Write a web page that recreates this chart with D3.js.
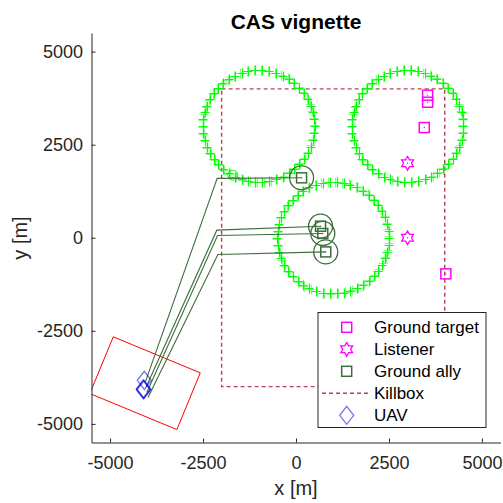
<!DOCTYPE html>
<html lang="en">
  <head>
    <meta charset="UTF-8">
    <title>CAS vignette</title>
    <script src="https://d3js.org/d3.v7.min.js"></script>
    <style>
      body { margin: 0; background: #fff; }
      text { font-family: "Liberation Sans", Arial, sans-serif; fill: #262626; }
    </style>
  </head>
  <body>
    <svg id="chart" width="503" height="503"></svg>
  <script>
    // ---- data (metres) ----
    var killbox = [-2000, 4000, -4000, 4000];           // xmin, xmax, ymin, ymax
    var zoneCenters = [[-1000, 3000], [3000, 3000], [1000, 0]];
    var zoneRadius = 1500;
    var zoneMarker = [[-1700, 1680]];
    var targets = [[3540, 3830], [3540, 3640], [3450, 2960], [4030, -970]];
    var listeners = [[3000, 2000], [3000, 0]];
    var allies = [[150, 1610], [660, 310], [720, 115], [800, -380]];
    var waypoints = [[-2120, 1594], [-2130, 204], [-2110, 62], [-2100, -449]];
    var pathEnds = [[-4050, -3870], [-4030, -4010], [-4010, -4150], [-3980, -4290]];
    var uavs = [[-4080, -3830], [-4110, -4060], [-4100, -4090], [-4090, -4070]];
    var sensorBox = [[-4915, -2661], [-2575, -3629], [-3204, -5153], [-5544, -4185]];
    var tickVals = [-5000, -2500, 0, 2500, 5000];
    var legendItems = ["Ground target", "Listener", "Ground ally", "Killbox", "UAV"];

    var svg = d3.select("#chart");
    var x = d3.scaleLinear().domain([-5500, 5500]).range([91.5, 500.5]);
    var y = d3.scaleLinear().domain([-5500, 5500]).range([442.5, 33]);

    var green = "#3c6e3c";
    var magenta = "#ff00ff";

    svg.append("defs").append("clipPath").attr("id", "clip")
      .append("rect").attr("x", 91.5).attr("y", 33).attr("width", 409).attr("height", 409.5);

    var g = svg.append("g").attr("clip-path", "url(#clip)");

    // killbox
    g.append("rect")
      .attr("x", x(killbox[0])).attr("y", y(killbox[3]))
      .attr("width", x(killbox[1]) - x(killbox[0]))
      .attr("height", y(killbox[2]) - y(killbox[3]))
      .attr("fill", "none").attr("stroke", "#a2142f").attr("stroke-opacity", 0.8)
      .attr("stroke-width", 1.4).attr("stroke-dasharray", "4,3");

    // zone rings of plus markers (a faint ghost copy sits just beside each one)
    var n = 50, ring = [];
    zoneCenters.forEach(function(c) {
      for (var i = 0; i < n; i++) {
        [[0.025, 0.5], [0, 1]].forEach(function(o) {
          var a = 2 * Math.PI * i / n + o[0];
          ring.push({p: [c[0] + zoneRadius * Math.cos(a), c[1] + zoneRadius * Math.sin(a)], op: o[1]});
        });
      }
    });
    g.selectAll(".plus").data(ring).enter().append("path")
      .attr("class", "plus")
      .attr("transform", function(d) { return "translate(" + Math.round(x(d.p[0])) + "," + Math.round(y(d.p[1])) + ")"; })
      .attr("d", "M-4.5,0.5H4.5M0.5,-4.5V5.5")
      .attr("stroke", "#00ff00").attr("stroke-opacity", function(d) { return d.op; }).attr("stroke-width", 1.2);

    g.selectAll(".zm").data(zoneMarker).enter().append("circle")
      .attr("cx", function(d) { return x(d[0]); }).attr("cy", function(d) { return y(d[1]); })
      .attr("r", 5).attr("fill", "none").attr("stroke", "#00ff00");

    // sensor footprint
    g.append("path")
      .datum(sensorBox)
      .attr("d", d3.line().x(function(d) { return x(d[0]); }).y(function(d) { return y(d[1]); }).curve(d3.curveLinearClosed))
      .attr("fill", "none").attr("stroke", "red").attr("stroke-width", 1);

    // routes ally -> waypoint -> uav
    var routes = allies.map(function(a, i) { return [a, waypoints[i], pathEnds[i]]; });
    g.selectAll(".route").data(routes).enter().append("path")
      .attr("d", d3.line().x(function(d) { return x(d[0]); }).y(function(d) { return y(d[1]); }))
      .attr("fill", "none").attr("stroke", green).attr("stroke-width", 1.1);

    // allies
    g.selectAll(".ring").data(allies).enter().append("circle")
      .attr("cx", function(d) { return x(d[0]); }).attr("cy", function(d) { return y(d[1]); })
      .attr("r", 12).attr("fill", "none").attr("stroke", green).attr("stroke-width", 1.3);
    g.selectAll(".ally").data(allies).enter().append("rect")
      .attr("x", function(d) { return x(d[0]) - 5; }).attr("y", function(d) { return y(d[1]) - 5; })
      .attr("width", 10).attr("height", 10)
      .attr("fill", "none").attr("stroke", green).attr("stroke-width", 1.5);

    // targets
    g.selectAll(".tgt").data(targets).enter().append("rect")
      .attr("x", function(d) { return x(d[0]) - 5; }).attr("y", function(d) { return y(d[1]) - 5; })
      .attr("width", 10).attr("height", 10)
      .attr("fill", "none").attr("stroke", magenta).attr("stroke-width", 1.5);
    g.selectAll(".tdot").data(targets.concat(allies, listeners)).enter().append("circle")
      .attr("cx", function(d) { return x(d[0]); }).attr("cy", function(d) { return y(d[1]); })
      .attr("r", 0.7).attr("fill", function(d, i) { return i >= targets.length && i < targets.length + allies.length ? green : magenta; });

    // listeners (hexagram)
    function hexagram(R) {
      var r = R / Math.sqrt(3), pts = [];
      for (var i = 0; i < 12; i++) {
        var a = -Math.PI / 2 + i * Math.PI / 6, rr = i % 2 ? r : R;
        pts.push([rr * Math.cos(a), rr * Math.sin(a)]);
      }
      return "M" + pts.join("L") + "Z";
    }
    g.selectAll(".lst").data(listeners).enter().append("path")
      .attr("transform", function(d) { return "translate(" + x(d[0]) + "," + y(d[1]) + ")"; })
      .attr("d", hexagram(6.8))
      .attr("fill", "none").attr("stroke", magenta).attr("stroke-width", 1.3);

    // uav
    var diamond = "M0,-9L7,0L0,9L-7,0Z";
    g.selectAll(".uav").data(uavs).enter().append("path")
      .attr("transform", function(d) { return "translate(" + x(d[0]) + "," + y(d[1]) + ")"; })
      .attr("d", diamond)
      .attr("fill", "none").attr("stroke", "#0000dd").attr("stroke-opacity", 0.55).attr("stroke-width", 1.3);

    // axes
    var fmt = function(d) { return String(d); };
    var xAxis = svg.append("g").attr("transform", "translate(0,442.5)")
      .call(d3.axisBottom(x).tickValues(tickVals).tickFormat(fmt).tickSizeInner(-4).tickSizeOuter(0).tickPadding(14));
    var yAxis = svg.append("g").attr("transform", "translate(91.5,0)")
      .call(d3.axisLeft(y).tickValues(tickVals).tickFormat(fmt).tickSizeInner(-4).tickSizeOuter(0).tickPadding(8.5));
    [xAxis, yAxis].forEach(function(a) {
      a.selectAll("path, line").attr("stroke", "#262626");
      a.selectAll("text").attr("font-size", "18px").attr("fill", "#262626")
        .style("font-family", "'Liberation Sans', Arial, sans-serif");
    });

    // title and labels
    svg.append("text").attr("x", 296).attr("y", 29).attr("text-anchor", "middle")
      .attr("font-size", "21px").attr("font-weight", "bold").style("fill", "#000").text("CAS vignette");
    svg.append("text").attr("x", 296).attr("y", 495).attr("text-anchor", "middle")
      .attr("font-size", "20px").text("x [m]");
    svg.append("text").attr("transform", "translate(27,238) rotate(-90)").attr("text-anchor", "middle")
      .attr("font-size", "20px").text("y [m]");

    // legend
    var lg = svg.append("g");
    lg.append("rect").attr("x", 318).attr("y", 312.5).attr("width", 168).attr("height", 115)
      .attr("fill", "#fff").attr("stroke", "#262626").attr("stroke-width", 1);
    var rowY = function(i) { return 327.3 + i * 22; };
    legendItems.forEach(function(name, i) {
      var cy = rowY(i), mx = 346.7;
      if (i === 0 || i === 2) {
        lg.append("rect").attr("x", mx - 5).attr("y", cy - 5).attr("width", 10).attr("height", 10)
          .attr("fill", "none").attr("stroke", i === 0 ? magenta : green).attr("stroke-width", 1.5);
      } else if (i === 1) {
        lg.append("path").attr("transform", "translate(" + mx + "," + cy + ")").attr("d", hexagram(6.8))
          .attr("fill", "none").attr("stroke", magenta).attr("stroke-width", 1.3);
      } else if (i === 3) {
        lg.append("line").attr("x1", 322).attr("x2", 371).attr("y1", cy).attr("y2", cy)
          .attr("stroke", "#a2142f").attr("stroke-opacity", 0.8).attr("stroke-width", 1.4).attr("stroke-dasharray", "4,3");
      } else {
        lg.append("path").attr("transform", "translate(" + mx + "," + cy + ")").attr("d", diamond)
          .attr("fill", "none").attr("stroke", "#0000dd").attr("stroke-opacity", 0.55).attr("stroke-width", 1.3);
      }
      lg.append("text").attr("x", 374).attr("y", cy).attr("dy", "0.35em")
        .attr("font-size", "17px").style("fill", "#000").text(name);
    });
  </script>
  </body>
</html>
